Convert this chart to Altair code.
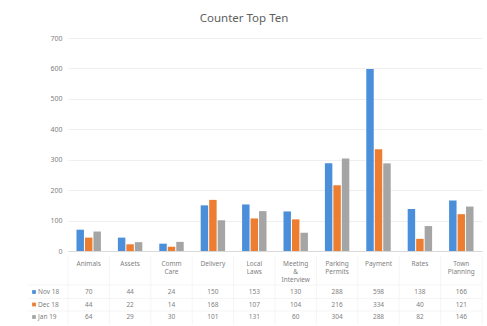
import altair as alt
import pandas as pd

# Counter enquiries by category, three months
categories = ["Animals", "Assets", "Comm Care", "Delivery", "Local Laws",
              "Meeting & Interview", "Parking Permits", "Payment", "Rates", "Town Planning"]
header_labels = ["Animals", "Assets", "Comm\nCare", "Delivery", "Local\nLaws",
                 "Meeting\n&\nInterview", "Parking\nPermits", "Payment", "Rates", "Town\nPlanning"]
series = ["Nov 18", "Dec 18", "Jan 19"]
nov_18 = [70, 44, 24, 150, 153, 130, 288, 598, 138, 166]
dec_18 = [44, 22, 14, 168, 107, 104, 216, 334, 40, 121]
jan_19 = [64, 29, 30, 101, 131, 60, 304, 288, 82, 146]
colors = ["#4B8FDA", "#ED7D31", "#A5A5A5"]

values = [nov_18, dec_18, jan_19]
rows = []
for s, vals in zip(series, values):
    for c, v in zip(categories, vals):
        rows.append({"category": c, "series": s, "value": v})
df = pd.DataFrame(rows)
hdr = pd.DataFrame({"category": categories, "label": header_labels})

FONT = "Noto Sans"
TXT = "#7f7f7f"
W, H = 414, 213

x_enc = alt.X("category:N", sort=categories,
              scale=alt.Scale(paddingInner=0, paddingOuter=0),
              axis=alt.Axis(labels=False, ticks=False, title=None, domain=True,
                            domainColor="#d9d9d9", grid=False))

bars = alt.Chart(df).mark_bar().encode(
    x=x_enc,
    xOffset=alt.XOffset("series:N", sort=series,
                        scale=alt.Scale(paddingInner=0.12, paddingOuter=1)),
    y=alt.Y("value:Q", scale=alt.Scale(domain=[0, 700]),
            axis=alt.Axis(values=list(range(0, 701, 100)), title=None, ticks=False,
                          domain=False, labelFontSize=7, labelColor=TXT, labelFont=FONT,
                          labelPadding=6, gridColor="#ebebeb", gridWidth=0.8)),
    color=alt.Color("series:N", sort=series,
                    scale=alt.Scale(domain=series, range=colors), legend=None),
)

title = alt.Chart(pd.DataFrame({"t": ["Counter Top Ten"]})).mark_text(
    font=FONT, fontSize=11.5, color="#606060", align="center", baseline="middle"
).encode(text="t:N", x=alt.value(176), y=alt.value(-19))

headers = alt.Chart(hdr).mark_text(
    font=FONT, fontSize=6.5, color=TXT, lineBreak="\n", baseline="top",
    align="center", lineHeight=8
).encode(x=alt.X("category:N", sort=categories), text="label:N", y=alt.value(223))

# data table: faint cell borders
grid_color = "#f3f3f3"
layers = [bars, title, headers]
vlines = alt.Chart(hdr).mark_rule(color=grid_color, strokeWidth=0.8).encode(
    x=alt.X("category:N", sort=categories, bandPosition=0),
    y=alt.value(218), y2=alt.value(287))
layers.append(vlines)
for yy in [247, 260.5, 273]:
    layers.append(
        alt.Chart(pd.DataFrame({"k": [0]})).mark_rule(color=grid_color, strokeWidth=0.8)
        .encode(x=alt.value(-40), x2=alt.value(W), y=alt.value(yy)))
layers.append(
    alt.Chart(pd.DataFrame({"k": [0]})).mark_rule(color=grid_color, strokeWidth=0.8)
    .encode(x=alt.value(W), y=alt.value(218), y2=alt.value(287)))

row_y = [254, 266.5, 279]
for s, col, yy in zip(series, colors, row_y):
    sub = df[df["series"] == s]
    layers.append(
        alt.Chart(sub).mark_text(font=FONT, fontSize=6.5, color=TXT, align="center",
                                 baseline="middle")
        .encode(x=alt.X("category:N", sort=categories), y=alt.value(yy), text="value:Q"))
    lab = pd.DataFrame({"series": [s]})
    layers.append(
        alt.Chart(lab).mark_square(size=14, color=col, opacity=1)
        .encode(x=alt.value(-34), y=alt.value(yy)))
    layers.append(
        alt.Chart(lab).mark_text(font=FONT, fontSize=6.5, color=TXT, align="left",
                                 baseline="middle")
        .encode(x=alt.value(-30), y=alt.value(yy), text="series:N"))

chart = alt.layer(*layers).properties(
    width=W, height=H,
    autosize=alt.AutoSizeParams(type="none"),
    padding={"left": 68, "top": 38, "right": 5, "bottom": 75},
    background="white",
).configure_view(stroke=None)

chart.save("out.html", embed_options={"renderer": "svg", "actions": False})
